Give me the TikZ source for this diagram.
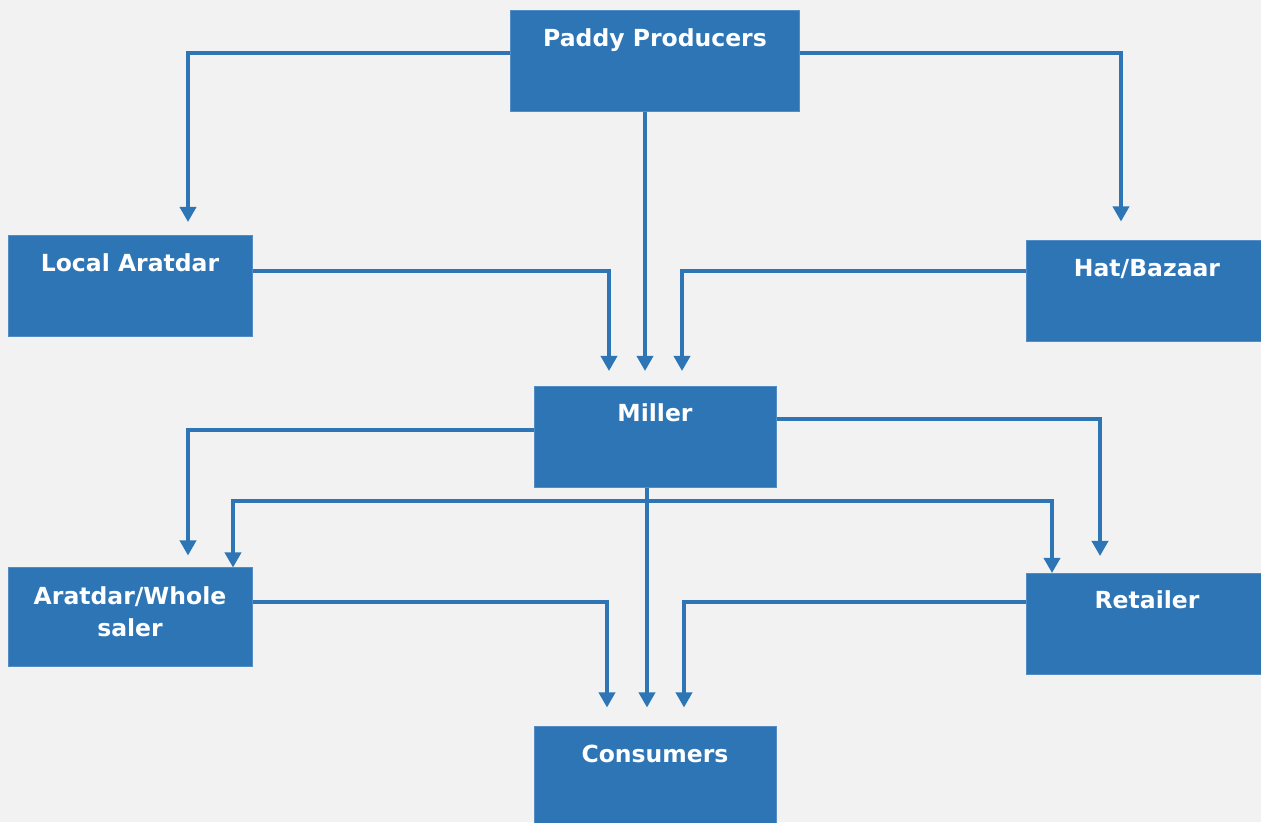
\documentclass[tikz,border=0pt]{standalone}
\usepackage{fontspec}
\setmainfont{DejaVu Sans}
\usetikzlibrary{arrows.meta}
\definecolor{boxblue}{RGB}{46,117,182}
\definecolor{boxedge}{RGB}{84,140,198}
\definecolor{pagegray}{RGB}{242,242,242}
\begin{document}
\begin{tikzpicture}[x=1pt, y=1pt,
        box/.style={rectangle, fill=boxblue, draw=boxedge, line width=1pt, minimum width=242pt, minimum height=101pt},
        lbl/.style={anchor=base, text=white, font=\bfseries\fontsize{23.5}{32}\selectfont, align=center},
        link/.style={draw=boxblue, line width=3.5pt, -{Triangle[width=16pt, length=15pt]}}]
        % Page
        \fill[pagegray] (0, 0) rectangle (1261, 822);
        \useasboundingbox (0, 0) rectangle (1261, 822);

        % Market actors
        \node[box, minimum width=289pt] (paddy) at (655, 760.5) {};
        \node[box, minimum width=244pt] (local) at (130, 536) {};
        \node[box] (hat) at (1147, 530.5) {};
        \node[box] (miller) at (655, 385) {};
        \node[box, minimum width=244pt, minimum height=99pt] (whole) at (130, 204.5) {};
        \node[box] (retail) at (1147, 198) {};
        \node[box] (cons) at (655, 44.5) {};

        % Box titles
        \node[lbl] (paddyT) at ([yshift=-36pt]paddy.north) {Paddy Producers};
        \node[lbl] (localT) at ([yshift=-37pt]local.north) {Local Aratdar};
        \node[lbl] (hatT) at ([yshift=-36pt]hat.north) {Hat/Bazaar};
        \node[lbl] (millerT) at ([yshift=-36pt]miller.north) {Miller};
        \node[lbl, text width=236pt] (wholeT) at ([yshift=-37pt]whole.north) {Aratdar/Whole\\saler};
        \node[lbl] (retailT) at ([yshift=-36pt]retail.north) {Retailer};
        \node[lbl] (consT) at ([yshift=-36pt]cons.north) {Consumers};

        % Producers to first buyers
        \draw[link, shorten >=13pt] ([yshift=8.5pt]paddy.west) -| ([xshift=58pt]local.north);
        \draw[link, shorten >=19pt] ([yshift=8.5pt]paddy.east) -| ([xshift=-26pt]hat.north);
        \draw[link, shorten >=15pt] ([xshift=-10pt]paddy.south) -- ([xshift=-10pt]miller.north);

        % Into the mill
        \draw[link, shorten >=15pt] ([yshift=15pt]local.east) -| ([xshift=-46pt]miller.north);
        \draw[link, shorten >=15pt] ([yshift=20.5pt]hat.west) -| ([xshift=27pt]miller.north);

        % Out of the mill
        \draw[link, shorten >=12pt] ([yshift=7pt]miller.west) -| ([xshift=58pt]whole.north);
        \draw[link, shorten >=17pt] ([yshift=18pt]miller.east) -| ([xshift=-47pt]retail.north);
        \draw[link, shorten >=19pt] ([xshift=-8pt]miller.south) -- ([xshift=-8pt]cons.north);
        \coordinate (fork) at ([xshift=-8pt, yshift=-13pt]miller.south);
        \draw[link] (fork) -| ([xshift=103pt]whole.north);
        \draw[link] (fork) -| ([xshift=-95pt]retail.north);

        % To consumers
        \draw[link, shorten >=19pt] ([yshift=15.5pt]whole.east) -| ([xshift=-48pt]cons.north);
        \draw[link, shorten >=19pt] ([yshift=22pt]retail.west) -| ([xshift=29pt]cons.north);
    \end{tikzpicture}
\end{document}
